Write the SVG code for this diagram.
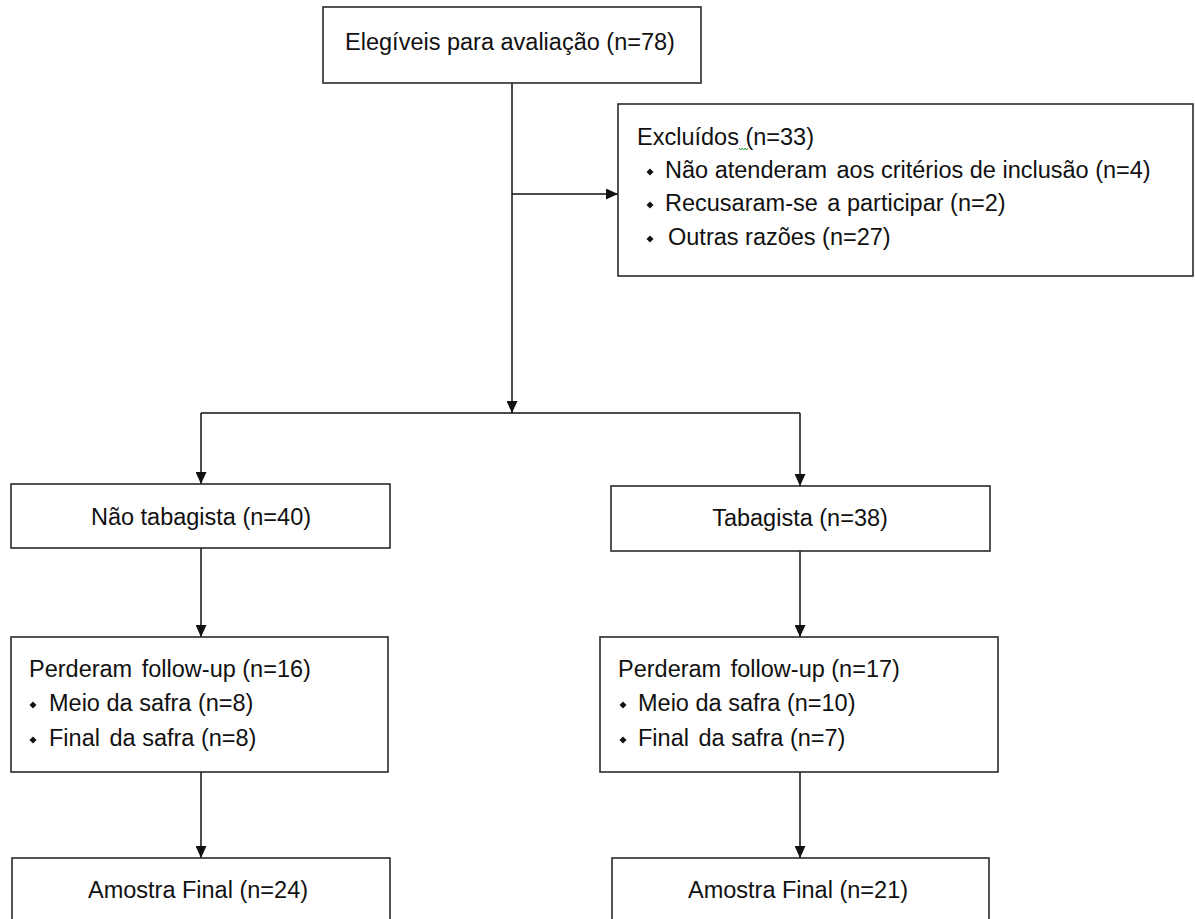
<svg xmlns="http://www.w3.org/2000/svg" width="1195" height="919" viewBox="0 0 1195 919">
<style>
.box{fill:#fff;stroke:#2a2a2a;stroke-width:1.6}
.t{font-family:"Liberation Sans",Arial,sans-serif;font-size:23.5px;fill:#111}
.c{text-anchor:middle}
.con{fill:none;stroke:#111;stroke-width:1.5}
.bul{fill:#111}
</style>
<defs>
<marker id="ah" markerUnits="userSpaceOnUse" markerWidth="12" markerHeight="11" refX="12" refY="5.5" orient="auto">
<path d="M0,0 L12,5.5 L0,11 z" fill="#111"/>
</marker>
<path id="dia" d="M0,-3.5 L3.5,0 L0,3.5 L-3.5,0 z"/>
</defs>
<rect width="1195" height="919" fill="#fff"/>
<g id="connectors">
<path class="con" d="M512,83 V413" marker-end="url(#ah)"/>
<path class="con" d="M512,194 H618" marker-end="url(#ah)"/>
<path class="con" d="M201,413 H800"/>
<path class="con" d="M201,413 V484" marker-end="url(#ah)"/>
<path class="con" d="M800,413 V486" marker-end="url(#ah)"/>
<path class="con" d="M201,548 V637" marker-end="url(#ah)"/>
<path class="con" d="M800,551 V637" marker-end="url(#ah)"/>
<path class="con" d="M201,772 V858" marker-end="url(#ah)"/>
<path class="con" d="M800,772 V858" marker-end="url(#ah)"/>
</g>
<g id="elegiveis">
<rect class="box" x="323" y="7" width="378" height="76"/>
<text class="t c" x="510" y="50">Elegíveis para avaliação (n=78)</text>
</g>
<g id="excluidos">
<rect class="box" x="618" y="104" width="575" height="172"/>
<text class="t" x="637" y="145">Excluídos (n=33)</text>
<path d="M739,148 l1.5,2 l1.5,-2 l1.5,2 l1.5,-2 l1.5,2 l1.5,-2" fill="none" stroke="#3c9a3c" stroke-width="1"/>
<use href="#dia" class="bul" x="650" y="172"/>
<text class="t" x="665" y="178">Não atenderam <tspan dx="3">aos critérios de inclusão (n=4)</tspan></text>
<use href="#dia" class="bul" x="650" y="205"/>
<text class="t" x="665" y="211">Recusaram-se <tspan dx="3">a participar (n=2)</tspan></text>
<use href="#dia" class="bul" x="650" y="239"/>
<text class="t" x="668" y="245">Outras razões (n=27)</text>
</g>
<g id="nao-tabagista">
<rect class="box" x="11" y="484" width="379" height="64"/>
<text class="t c" x="201" y="525">Não tabagista (n=40)</text>
</g>
<g id="tabagista">
<rect class="box" x="611" y="486" width="379" height="65"/>
<text class="t c" x="800" y="526">Tabagista (n=38)</text>
</g>
<g id="perderam-nao">
<rect class="box" x="11" y="637" width="377" height="135"/>
<text class="t" x="29" y="677">Perderam <tspan dx="3">follow-up (n=16)</tspan></text>
<use href="#dia" class="bul" x="33" y="705"/>
<text class="t" x="49" y="711">Meio da safra (n=8)</text>
<use href="#dia" class="bul" x="33" y="740"/>
<text class="t" x="49" y="746">Final <tspan dx="3">da safra (n=8)</tspan></text>
</g>
<g id="perderam-tab">
<rect class="box" x="600" y="637" width="398" height="135"/>
<text class="t" x="618" y="677">Perderam <tspan dx="3">follow-up (n=17)</tspan></text>
<use href="#dia" class="bul" x="623" y="705"/>
<text class="t" x="638" y="711">Meio da safra (n=10)</text>
<use href="#dia" class="bul" x="623" y="740"/>
<text class="t" x="638" y="746">Final <tspan dx="3">da safra (n=7)</tspan></text>
</g>
<g id="amostra-nao">
<rect class="box" x="12" y="858" width="378" height="80"/>
<text class="t c" x="198" y="898">Amostra Final (n=24)</text>
</g>
<g id="amostra-tab">
<rect class="box" x="612" y="858" width="377" height="80"/>
<text class="t c" x="798" y="898">Amostra Final (n=21)</text>
</g>
</svg>
